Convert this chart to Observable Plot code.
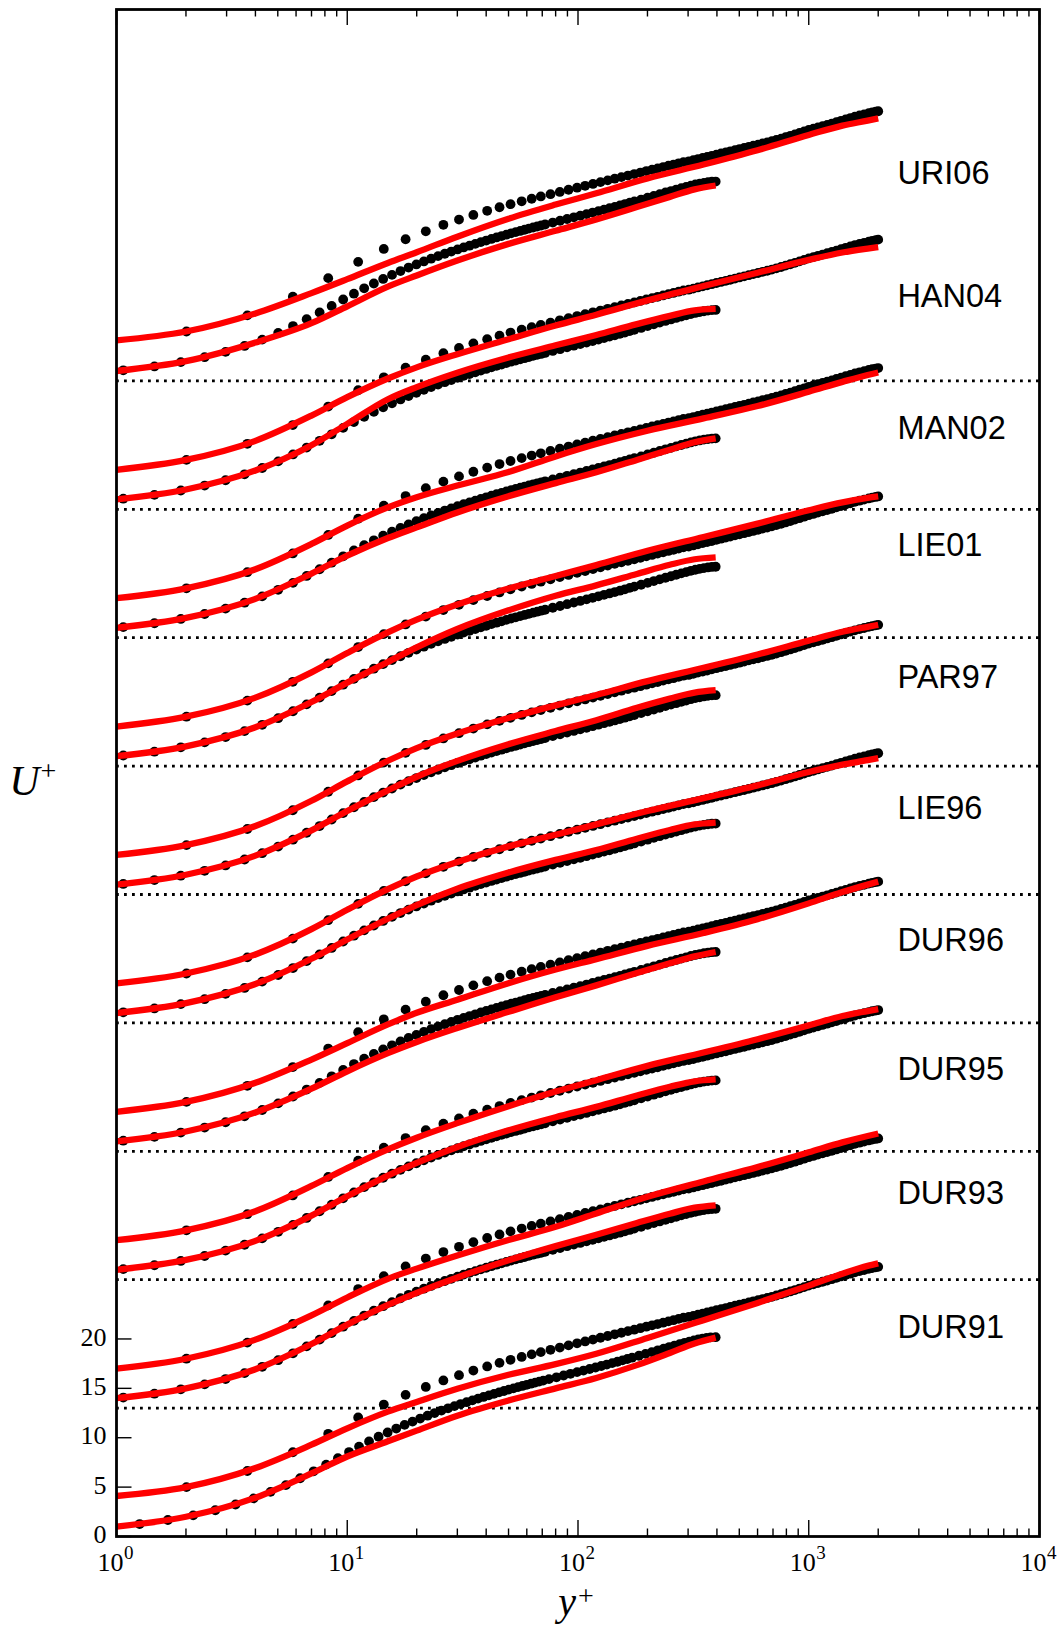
<!DOCTYPE html>
<html><head><meta charset="utf-8">
<script src="https://cdn.jsdelivr.net/npm/d3@7"></script>
<script src="https://cdn.jsdelivr.net/npm/@observablehq/plot@0.6"></script>
<style>body{margin:0;background:#fff}#chart svg{display:block}</style>
</head><body><div id="chart"></div>
<script>
// ---- categories (bottom to top) ----
const models = ["DUR91","DUR93","DUR95","DUR96","LIE96","PAR97","LIE01","MAN02","HAN04","URI06"];
const dividers = [13, 26, 39, 52, 65, 78, 91, 104, 117];

// ---- DNS reference profiles (black dots) ----
const dnsY400 = [1.07,1.46,1.90,2.41,2.97,3.59,4.28,5.02,5.82,6.67,7.59,8.56,9.60,10.69,11.84,13.04,14.31,15.63,17.01,18.44,19.94,21.48,23.09,24.75,26.47,28.24,30.07,31.95,33.88,35.87,37.92,40.02,42.17,44.37,46.65,48.94,51.31,53.72,56.21,58.70,61.26,63.91,66.56,69.28,72.05,77.74,83.62,89.67,95.91,102.3,108.9,115.7,122.6,129.7,137.0,144.4,152.0,159.7,167.6,175.5,187.8,200.3,213.1,226.1,239.4,252.9,266.5,280.3,294.3,308.5,322.6,336.9,351.4,365.9,380.5,395];
const dnsU400 = [1.07,1.46,1.90,2.40,2.94,3.54,4.18,4.85,5.55,6.25,6.93,7.59,8.24,8.83,9.37,9.86,10.32,10.73,11.12,11.47,11.79,12.09,12.37,12.63,12.87,13.09,13.31,13.51,13.69,13.87,14.05,14.21,14.37,14.52,14.66,14.80,14.94,15.06,15.18,15.30,15.42,15.53,15.63,15.73,15.83,16.03,16.21,16.39,16.56,16.72,16.88,17.04,17.19,17.34,17.48,17.62,17.76,17.90,18.04,18.17,18.36,18.55,18.73,18.90,19.07,19.22,19.37,19.51,19.64,19.77,19.88,19.97,20.05,20.11,20.16,20.18];
// DUR91 panel shows the low-Re data on a shifted grid
const dur91DotsY400 = [1.26,1.67,2.15,2.68,3.28,3.93,4.65,5.42,6.25,7.15,8.10,9.11,10.18,11.25,12.43,13.67,14.96,16.31,17.72,19.18,20.70,22.28,23.91,25.60,27.35,29.14,30.99,32.91,34.87,36.89,38.96,41.09,43.26,45.49,47.78,50.12,52.51,54.96,57.45,59.97,62.58,65.23,67.91,70.66,74.87,80.66,86.62,92.77,99.08,105.6,112.3,119.1,126.1,133.3,140.7,148.2,155.8,163.6,171.5,183.7,196.1,208.8,221.8,235.0,248.4,262.0,275.7,289.6,303.8,317.9,332.1,346.6,361.0,375.6,395];
const dur91DotsU400 = [1.26,1.67,2.14,2.66,3.24,3.86,4.52,5.20,5.90,6.60,7.28,7.93,8.55,9.10,9.62,10.10,10.53,10.93,11.30,11.63,11.94,12.23,12.50,12.75,12.98,13.20,13.41,13.60,13.78,13.96,14.13,14.29,14.44,14.59,14.73,14.87,15.00,15.12,15.24,15.36,15.47,15.58,15.68,15.78,15.93,16.12,16.30,16.47,16.64,16.80,16.96,17.11,17.26,17.41,17.55,17.69,17.83,17.97,18.10,18.30,18.49,18.67,18.85,19.02,19.18,19.33,19.48,19.61,19.74,19.85,19.95,20.04,20.11,20.16,20.18];
const dnsY2000 = [2.01,3.69,5.81,8.27,11.15,14.4,17.9,21.9,26.1,30.5,35.2,40.4,45.7,51.0,57.0,63.0,69.0,76.0,83.4,91.0,99.1,107.4,116.1,125.1,134.5,144.2,154.2,164.6,175.3,186.3,197.7,209.4,221.4,233.9,246.6,259.4,272.9,286.4,302,316,331,347,363,380,398,417,437,457,479,501,525,550,575,603,631,661,692,724,759,794,832,871,912,955,1000,1047,1096,1148,1202,1259,1318,1380,1445,1514,1585,1660,1738,1820,1884,1950,2000];
const dnsU2000 = [2.00,3.63,5.53,7.40,9.05,10.36,11.34,12.14,12.80,13.33,13.80,14.22,14.58,14.89,15.18,15.44,15.67,15.90,16.13,16.35,16.56,16.75,16.94,17.12,17.30,17.47,17.63,17.79,17.94,18.09,18.24,18.38,18.51,18.65,18.78,18.90,19.03,19.15,19.23,19.34,19.46,19.57,19.68,19.79,19.91,20.02,20.13,20.24,20.36,20.47,20.58,20.70,20.81,20.92,21.04,21.15,21.27,21.40,21.53,21.67,21.81,21.95,22.10,22.25,22.40,22.53,22.66,22.79,22.92,23.05,23.19,23.33,23.47,23.61,23.75,23.87,23.98,24.10,24.18,24.25,24.30];

// ---- model predictions (red lines) ----
const modelY400  = [1, 2, 4, 7, 10, 15, 20, 30, 50, 80, 120, 180, 250, 320, 395];
const modelY2000 = [1, 2, 4, 7, 10, 15, 20, 30, 50, 80, 120, 200, 350, 600, 1000, 1400, 1800, 2000];
const dur91Red400  = [1.0,2.0,3.93,6.39,8.1,9.64,10.72,12.23,13.77,15.0,16.05,17.35,18.58,19.54,20.13];
const dur91Red2000 = [1.1,2.0,3.93,6.29,7.95,9.64,10.62,11.95,13.37,14.45,15.5,17.1,18.9,20.65,22.4,23.6,24.4,24.65];
const dur93Red400  = [1.0,2.0,3.93,6.49,8.45,10.44,11.67,13.23,14.97,16.4,17.55,18.75,19.68,20.29,20.53];
const dur93Red2000 = [1.0,2.0,3.93,6.39,8.2,10.09,11.12,12.45,14.02,15.35,16.7,18.4,19.95,21.4,22.9,23.9,24.55,24.8];
const dur95Red400  = [1.0,2.0,3.93,6.49,8.45,10.54,11.82,13.43,15.12,16.45,17.5,18.65,19.53,20.09,20.28];
const dur95Red2000 = [1.0,2.0,3.93,6.49,8.3,10.19,11.37,12.85,14.57,16.05,17.2,18.65,20.0,21.35,22.75,23.7,24.2,24.4];
const dur96Red400  = [1.0,2.0,3.93,6.34,8.1,9.94,11.07,12.48,14.12,15.6,16.8,18.05,19.03,19.74,20.18];
const dur96Red2000 = [1.0,2.0,3.93,6.29,7.95,9.84,11.02,12.35,14.02,15.4,16.45,17.8,19.1,20.5,22.1,23.25,24.0,24.3];
const lie96Red400  = [1.0,2.0,3.93,6.49,8.45,10.54,11.92,13.58,15.22,16.5,17.5,18.65,19.53,20.09,20.28];
const lie96Red2000 = [1.0,2.0,3.93,6.49,8.45,10.54,11.82,13.3,14.87,16.05,17.1,18.45,19.75,21.05,22.4,23.15,23.6,23.8];
const par97Red400  = [1.0,2.0,3.93,6.49,8.45,10.54,11.92,13.53,15.22,16.55,17.65,18.9,19.83,20.44,20.68];
const par97Red2000 = [1.0,2.0,3.93,6.49,8.45,10.54,11.82,13.3,14.87,16.15,17.2,18.6,19.95,21.3,22.7,23.6,24.1,24.3];
const lie01Red400  = [1.0,2.0,3.93,6.49,8.45,10.54,12.02,13.88,15.77,17.25,18.3,19.45,20.38,20.94,21.13];
const lie01Red2000 = [1.0,2.0,3.93,6.49,8.45,10.54,11.82,13.35,14.97,16.25,17.35,18.8,20.2,21.55,22.9,23.7,24.15,24.3];
const man02Red400  = [1.0,2.0,3.93,6.49,8.3,10.09,11.17,12.68,14.32,15.65,16.75,18.0,19.03,19.79,20.18];
const man02Red2000 = [1.0,2.0,3.93,6.49,8.35,10.19,11.22,12.4,13.77,15.35,16.6,17.95,19.2,20.45,21.9,22.9,23.6,23.85];
const han04Red400  = [1.0,2.0,3.93,6.49,8.65,11.14,12.37,13.83,15.37,16.6,17.65,18.75,19.58,20.14,20.28];
const han04Red2000 = [1.0,2.0,3.93,6.49,8.35,10.24,11.37,12.7,14.22,15.6,16.7,18.15,19.6,20.95,22.25,23.0,23.4,23.55];
const uri06Red400  = [1.0,2.0,3.88,5.84,7.55,9.54,10.67,12.18,13.87,15.2,16.35,17.6,18.63,19.39,19.78];
const uri06Red2000 = [1.1,2.0,3.83,5.89,7.3,8.94,10.02,11.6,13.42,14.85,16.0,17.5,18.9,20.35,21.9,22.85,23.35,23.57];

// ---- ticks ----
const xMajorTicks = [1, 10, 100, 1000, 10000];
const xTickExponents = ["0", "1", "2", "3", "4"];
const xMinorTicks = [2,3,4,5,6,7,8,9,20,30,40,50,60,70,80,90,200,300,400,500,600,700,800,900,2000,3000,4000,5000,6000,7000,8000,9000];
const yTicks = [0, 5, 10, 15, 20];

// ---- build tables ----
const red400 = [dur91Red400, dur93Red400, dur95Red400, dur96Red400, lie96Red400, par97Red400, lie01Red400, man02Red400, han04Red400, uri06Red400];
const red2000 = [dur91Red2000, dur93Red2000, dur95Red2000, dur96Red2000, lie96Red2000, par97Red2000, lie01Red2000, man02Red2000, han04Red2000, uri06Red2000];
const groupStep = 13, highReShift = 3;
// baseline height of each model name inside its band (U+ units above the band offset)
const labelLift = [20.1, 20.7, 20.2, 20.3, 20.6, 20.9, 21.3, 20.1, 20.5, 19.9];

const dots = [], lines = [], labels = [];
models.forEach((m, k) => {
  const base = k * groupStep;
  const ys = k === 0 ? dur91DotsY400 : dnsY400;
  const us = k === 0 ? dur91DotsU400 : dnsU400;
  for (let i = 0; i < Math.min(ys.length, us.length); i++) dots.push({yp: ys[i], u: us[i] + base});
  for (let i = 0; i < Math.min(dnsY2000.length, dnsU2000.length); i++) dots.push({yp: dnsY2000[i], u: dnsU2000[i] + base + highReShift});
  modelY400.forEach((y, i) => lines.push({key: m + "-400", yp: y, u: red400[k][i] + base}));
  modelY2000.forEach((y, i) => lines.push({key: m + "-2000", yp: y, u: red2000[k][i] + base + highReShift}));
  labels.push({name: m, u: base + labelLift[k]});
});

const W = 1062, H = 1627, mL = 116, mR = 23, mT = 9, mB = 91;
const plotH = H - mT - mB, plotW = W - mL - mR;
const serif = "'Liberation Serif', 'DejaVu Serif', serif";

const chart = Plot.plot({
  width: W, height: H,
  marginLeft: mL, marginRight: mR, marginTop: mT, marginBottom: mB,
  x: {type: "log", domain: [1, 10000], axis: null},
  y: {domain: [0, 154.6], axis: null},
  style: {background: "#fff"},
  marks: [
    Plot.ruleY(dividers, {stroke: "#000", strokeWidth: 2.8, strokeDasharray: "2.8,5.2"}),
    Plot.dot(dots, {x: "yp", y: "u", r: 4.9, fill: "#000", stroke: null}),
    Plot.line(lines, {x: "yp", y: "u", z: "key", stroke: "#ff0000", strokeWidth: 6.3, curve: "monotone-x", strokeLinecap: "butt", strokeLinejoin: "round"}),
    // bottom ticks (inward)
    Plot.tickX(xMajorTicks, {x: d => d, stroke: "#000", strokeWidth: 1.4, insetTop: plotH - 16}),
    Plot.tickX(xMinorTicks, {x: d => d, stroke: "#000", strokeWidth: 1.4, insetTop: plotH - 7.5}),
    // top ticks (inward)
    Plot.tickX(xMajorTicks, {x: d => d, stroke: "#000", strokeWidth: 1.4, insetBottom: plotH - 16}),
    Plot.tickX(xMinorTicks, {x: d => d, stroke: "#000", strokeWidth: 1.4, insetBottom: plotH - 7.5}),
    // left y ticks
    Plot.tickY(yTicks, {y: d => d, stroke: "#000", strokeWidth: 1.4, insetRight: plotW - 15.5}),
    Plot.frame({stroke: "#000", strokeWidth: 2.8}),
    // x tick labels 10^n
    Plot.text(xMajorTicks, {x: d => d, text: () => "10", frameAnchor: "bottom", textAnchor: "end", lineAnchor: "bottom", dx: 7, dy: 34, fontFamily: serif, fontSize: 26, lineHeight: 0.8, fill: "#000"}),
    Plot.text(xMajorTicks, {x: d => d, text: (d, i) => xTickExponents[i], frameAnchor: "bottom", textAnchor: "start", lineAnchor: "bottom", dx: 7.5, dy: 22, fontFamily: serif, fontSize: 19, lineHeight: 0.8, fill: "#000"}),
    // y tick labels
    Plot.text(yTicks, {y: d => d, text: d => String(d), frameAnchor: "left", textAnchor: "end", lineAnchor: "middle", dx: -10, fontFamily: serif, fontSize: 26, lineHeight: 0.8, fill: "#000"}),
    // model labels
    Plot.text(labels, {x: () => 2422, y: "u", text: "name", textAnchor: "start", lineAnchor: "bottom", fontFamily: "'Liberation Sans', Arial, sans-serif", fontSize: 32.5, fill: "#000"}),
    // axis titles
    Plot.text(["y"], {x: () => 100, text: d => d, frameAnchor: "bottom", textAnchor: "end", lineAnchor: "bottom", dx: -2, dy: 78, fontFamily: serif, fontStyle: "italic", fontSize: 40, fill: "#000"}),
    Plot.text(["+"], {x: () => 100, text: d => d, frameAnchor: "bottom", textAnchor: "start", lineAnchor: "middle", dx: 0, dy: 60, fontFamily: serif, fontSize: 28, fill: "#000"}),
    Plot.text(["U"], {text: d => d, frameAnchor: "left", textAnchor: "end", lineAnchor: "bottom", dx: -77, dy: 22, fontFamily: serif, fontStyle: "italic", fontSize: 42, fill: "#000"}),
    Plot.text(["+"], {text: d => d, frameAnchor: "left", textAnchor: "start", lineAnchor: "middle", dx: -76, dy: -2, fontFamily: serif, fontSize: 28, fill: "#000"})
  ]
});
document.getElementById("chart").appendChild(chart);
</script>
</body></html>
